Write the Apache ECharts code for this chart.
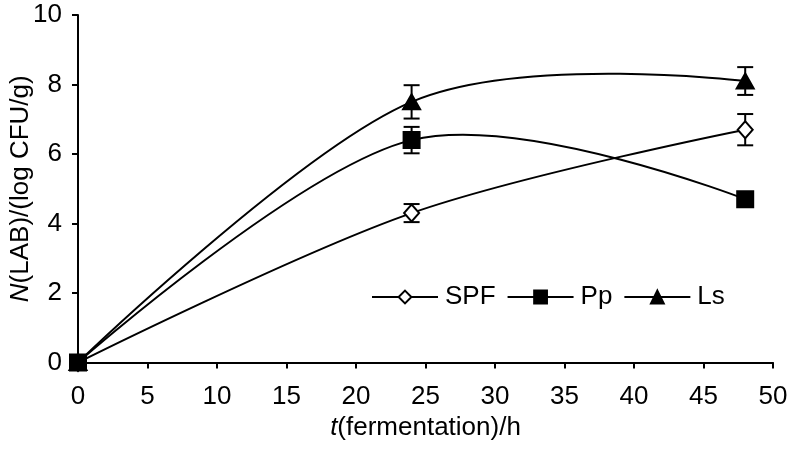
<!DOCTYPE html>
<html><head><meta charset="utf-8">
<script src="https://cdn.jsdelivr.net/npm/echarts@6/dist/echarts.min.js"></script>
<style>html,body{margin:0;padding:0;background:#fff}#c{width:792px;height:450px}</style>
</head><body><div id="c"></div>
<script>
const times = [0, 24, 48];
const seriesNames = ['SPF', 'Pp', 'Ls'];
const spfValues = [0, 4.3, 6.7];
const ppValues = [0, 6.4, 4.7];
const lsValues = [0, 7.5, 8.1];
const spfErr = [0, 0.26, 0.45];
const ppErr = [0, 0.38, 0.2];
const lsErr = [0, 0.48, 0.4];
const xTicks = { min: 0, max: 50, interval: 5 };
const yTicks = { min: 0, max: 10, interval: 2 };

const FONT = 'Liberation Sans';
const FS = 26;

const chart = echarts.init(document.getElementById('c'), null, { renderer: 'canvas' });

function errorSeries(vals, errs, z) {
  return {
    type: 'custom', z: z, silent: true,
    data: times.map((t, i) => [t, vals[i] - errs[i], vals[i] + errs[i]]),
    renderItem: function (params, api) {
      const lo = api.coord([api.value(0), api.value(1)]);
      const hi = api.coord([api.value(0), api.value(2)]);
      if (Math.abs(hi[1] - lo[1]) < 1) return { type: 'group', children: [] };
      const hw = 8;
      const st = { stroke: '#000', lineWidth: 2 };
      return { type: 'group', children: [
        { type: 'line', shape: { x1: lo[0], y1: lo[1], x2: hi[0], y2: hi[1] }, style: st },
        { type: 'line', shape: { x1: lo[0] - hw, y1: lo[1], x2: lo[0] + hw, y2: lo[1] }, style: st },
        { type: 'line', shape: { x1: hi[0] - hw, y1: hi[1], x2: hi[0] + hw, y2: hi[1] }, style: st }
      ] };
    }
  };
}

// Smoothed curve (spreadsheet-style cardinal spline) through the data points,
// positioned via the axis scales (api.coord).
function curveSeries(vals, z) {
  return {
    type: 'custom', z: z, silent: true,
    data: times.map((t, i) => [t, vals[i]]),
    renderItem: function (params, api) {
      if (params.dataIndex !== 0) return { type: 'group', children: [] };
      const p = times.map((t, i) => api.coord([t, vals[i]]));
      const children = [];
      for (let i = 0; i < p.length - 1; i++) {
        const a = p[i], b = p[i + 1];
        const pa = i > 0 ? p[i - 1] : null;
        const nb = i + 2 < p.length ? p[i + 2] : null;
        const c1 = pa ? [a[0] + (b[0] - pa[0]) / 6, a[1] + (b[1] - pa[1]) / 6] : [a[0], a[1]];
        const c2 = nb ? [b[0] - (nb[0] - a[0]) / 6, b[1] - (nb[1] - a[1]) / 6] : [b[0], b[1]];
        children.push({ type: 'bezierCurve',
          shape: { x1: a[0], y1: a[1], cpx1: c1[0], cpy1: c1[1], cpx2: c2[0], cpy2: c2[1], x2: b[0], y2: b[1] },
          style: { stroke: '#000', lineWidth: 2, fill: null } });
      }
      return { type: 'group', children: children };
    }
  };
}

function markerSeries(name, vals, symbol, size, fill, z) {
  return {
    name: name, type: 'line', z: z,
    data: times.map((t, i) => [t, vals[i]]),
    symbol: symbol, symbolSize: size, showAllSymbol: true,
    lineStyle: { color: '#000', width: 2, opacity: 0 },
    itemStyle: { color: fill, borderColor: '#000', borderWidth: 2 },
    emphasis: { disabled: true }
  };
}

chart.setOption({
  animation: false,
  backgroundColor: '#fff',
  textStyle: { fontFamily: FONT, color: '#000' },
  grid: { left: 78, right: 19, top: 15, bottom: 87.5, containLabel: false, outerBoundsMode: 'none' },
  legend: {
    data: seriesNames,
    left: 366, top: 279,
    itemWidth: 66, itemHeight: 16, itemGap: 11,
    lineStyle: { color: '#000', width: 2, opacity: 1 },
    textStyle: { fontFamily: FONT, fontSize: FS, color: '#000', padding: [0, 0, 0, 2] },
    selectedMode: false
  },
  xAxis: {
    type: 'value', min: xTicks.min, max: xTicks.max, interval: xTicks.interval,
    axisLine: { lineStyle: { color: '#000', width: 2 } },
    axisTick: { show: true, length: 6, lineStyle: { color: '#000', width: 2 } },
    splitLine: { show: false },
    axisLabel: { fontFamily: FONT, fontSize: FS, color: '#000', margin: 21 },
    name: '{i|t}(fermentation)/h',
    nameLocation: 'middle', nameGap: 52, nameMoveOverlap: false,
    nameTextStyle: { fontFamily: FONT, fontSize: FS, color: '#000',
      rich: { i: { fontStyle: 'italic', fontFamily: FONT, fontSize: FS, color: '#000' } } }
  },
  yAxis: {
    type: 'value', min: yTicks.min, max: yTicks.max, interval: yTicks.interval,
    axisLine: { show: true, lineStyle: { color: '#000', width: 2 } },
    axisTick: { show: true, length: 6, lineStyle: { color: '#000', width: 2 } },
    splitLine: { show: false },
    axisLabel: { fontFamily: FONT, fontSize: FS, color: '#000', margin: 16 },
    name: '{i|N}(LAB)/(log CFU/g)',
    nameLocation: 'middle', nameGap: 44, nameMoveOverlap: false,
    nameTextStyle: { fontFamily: FONT, fontSize: FS, color: '#000',
      rich: { i: { fontStyle: 'italic', fontFamily: FONT, fontSize: FS, color: '#000' } } }
  },
  series: [
    curveSeries(spfValues, 1),
    curveSeries(lsValues, 1),
    curveSeries(ppValues, 1),
    errorSeries(spfValues, spfErr, 2),
    errorSeries(ppValues, ppErr, 2),
    errorSeries(lsValues, lsErr, 2),
    markerSeries('SPF', spfValues, 'diamond', [15, 17], '#fff', 3),
    markerSeries('Ls', lsValues, 'triangle', [17, 15], '#000', 4),
    markerSeries('Pp', ppValues, 'rect', [16, 16], '#000', 5)
  ]
});
</script></body></html>
